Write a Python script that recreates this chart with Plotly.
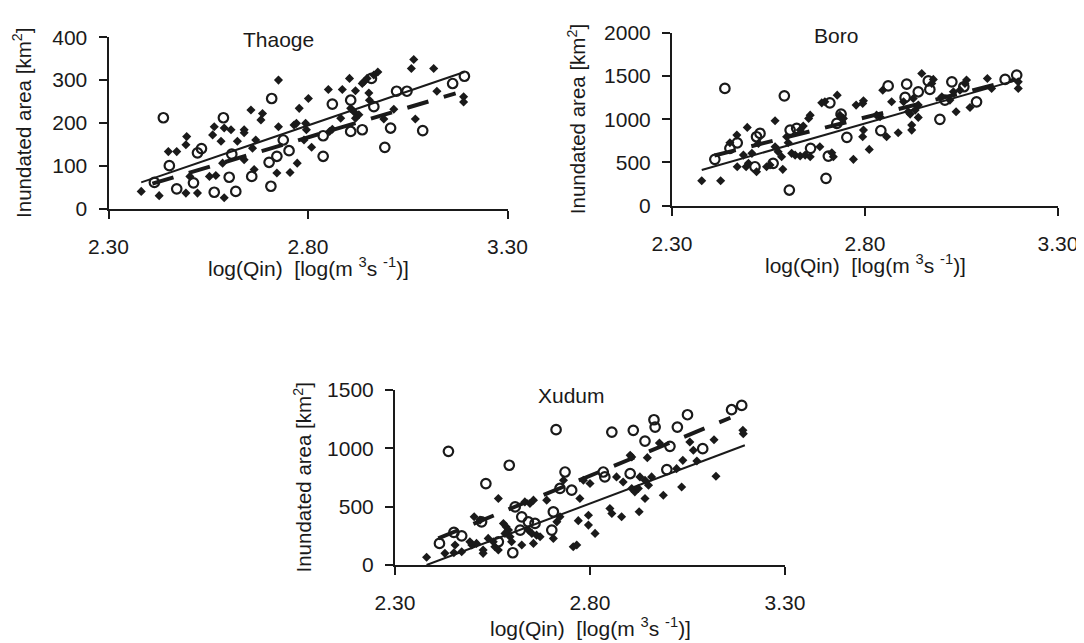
import plotly.graph_objects as go

# ---------------- data ----------------
x_ticks = [2.30, 2.80, 3.30]
x_ticktext = ["2.30", "2.80", "3.30"]

# Thaoge
thaoge_fill_x = [2.382, 2.427, 2.45, 2.471, 2.496, 2.494, 2.504, 2.494, 2.523, 2.565, 2.561, 2.59, 2.607, 2.582,
                 2.553, 2.569, 2.586, 2.59, 2.623, 2.64, 2.64, 2.64, 2.657, 2.686, 2.682, 2.665, 2.669, 2.661,
                 2.726, 2.726, 2.722, 2.755, 2.773, 2.778, 2.765, 2.771, 2.801, 2.794, 2.796, 2.79, 2.809, 2.851,
                 3.065, 3.059, 3.115, 2.975, 2.965, 2.948, 2.94, 2.936, 2.904, 2.886, 2.919, 2.9525, 2.954,
                 3.123, 3.19, 3.19, 2.907, 2.915, 2.9275, 2.919, 2.882, 2.99, 3.015, 3.069, 2.861, 2.854]
thaoge_fill_y = [40, 30, 133, 133, 168, 149, 75, 36, 36, 191, 172, 188, 184, 157,
                 75, 77, 106, 25, 157, 184, 177, 114, 230, 222, 207, 91, 160, 141,
                 300, 191, 83, 84, 106, 234, 195, 199, 257, 199, 184, 160, 143, 278,
                 348, 327, 327, 319, 312, 304, 296, 292, 304, 278, 275, 270, 253,
                 274, 261, 249, 234, 226, 219, 211, 211, 209, 232, 209, 185, 180]
thaoge_open_x = [2.4375, 2.415, 2.4525, 2.471, 2.513, 2.523, 2.533, 2.565, 2.619, 2.6025, 2.588, 2.609, 2.659,
                 2.707, 2.709, 2.7025, 2.722, 2.738, 2.7525, 2.838, 2.838, 2.861, 3.192, 3.1625, 3.048, 3.022,
                 2.959, 2.907, 2.965, 2.936, 2.907, 3.007, 3.0875, 2.9925]
thaoge_open_y = [212, 61, 100, 46, 60, 130, 140, 38, 40, 73, 212, 127, 75,
                 52, 257, 108, 122, 160, 135, 170, 122, 244, 309, 292, 274, 274,
                 304, 253, 238, 184, 180, 188, 182, 143]
thaoge_solid_x, thaoge_solid_y = [2.382, 3.192], [61, 319]
thaoge_dash_x, thaoge_dash_y = [2.41, 3.17], [58, 269]

# Boro
boro_fill_x = [2.377, 2.426, 2.469, 2.45, 2.468, 2.495, 2.492, 2.498, 2.519, 2.485, 2.507, 2.545, 2.554, 2.567,
               2.567, 2.575, 2.584, 2.587, 2.524, 2.597, 2.601, 2.61, 2.619, 2.632, 2.645, 2.658, 2.632, 2.64,
               2.658, 2.654, 2.683, 2.688, 2.696, 2.714, 2.718, 2.728, 2.735, 2.744, 2.77, 2.777, 2.796, 2.794,
               2.796, 2.794, 2.811, 2.846, 2.856, 2.947, 2.977, 2.973, 3.063, 3.059, 3.117, 3.197, 3.197, 3.128,
               2.869, 2.9, 2.925, 2.938, 2.93, 2.839, 2.83, 2.917, 2.912, 2.938, 2.921, 2.921, 2.886, 3.036,
               3.072, 3.02, 2.999, 3.046, 3.029]
boro_fill_y = [289, 289, 450, 727, 816, 905, 450, 490, 393, 585, 605, 450, 470, 982,
               681, 624, 566, 420, 720, 797, 727, 605, 585, 574, 585, 566, 874, 920,
               1047, 1009, 681, 1189, 1201, 612, 566, 1278, 1047, 1009, 536, 1163, 1212, 1182,
               874, 797, 651, 1336, 797, 1529, 1460, 1413, 1452, 1413, 1471, 1432, 1356, 1356,
               1201, 1201, 1240, 1163, 1105, 1028, 1047, 1059, 1086, 1021, 932, 874, 843, 1086,
               1136, 1221, 1259, 1336, 1317]
boro_open_x = [2.437, 2.411, 2.45, 2.469, 2.515, 2.519, 2.528, 2.562, 2.591, 2.606, 2.623, 2.659, 2.604,
               2.699, 2.705, 2.709, 2.738, 2.727, 2.753, 2.841, 2.86, 2.908, 2.964, 2.968, 2.938, 2.904,
               3.025, 3.056, 3.007, 3.089, 2.994, 3.163, 3.193]
boro_open_y = [1356, 536, 663, 727, 450, 797, 836, 490, 1270, 874, 894, 663, 181,
               316, 574, 1189, 1059, 951, 790, 868, 1385, 1405, 1443, 1344, 1317, 1252,
               1432, 1375, 1221, 1201, 998, 1460, 1510]
boro_solid_x, boro_solid_y = [2.377, 3.193], [412, 1452]
boro_dash_x, boro_dash_y = [2.41, 3.19], [580, 1460]

# Xudum
xudum_fill_x = [2.381, 2.428, 2.454, 2.471, 2.451, 2.492, 2.497, 2.509, 2.526, 2.526, 2.539, 2.552, 2.565,
                2.556, 2.565, 2.578, 2.585, 2.591, 2.582, 2.595, 2.599, 2.625, 2.633, 2.646, 2.655, 2.642,
                2.651, 2.655, 2.663, 2.672, 2.689, 2.706, 2.715, 2.723, 2.732, 2.757, 2.766, 2.77, 2.503,
                2.518, 2.796, 2.796, 2.813, 2.774, 2.783, 2.8, 2.851, 2.856, 2.881, 2.868, 2.885, 2.907,
                2.915, 2.924, 2.941, 2.926, 2.903, 2.907, 2.947, 2.928, 2.941, 2.95, 2.958, 2.978, 2.988,
                3.022, 3.035, 3.038, 3.056, 3.065, 3.074, 3.118, 3.123, 3.192, 3.193]
xudum_fill_y = [66, 100, 171, 114, 105, 199, 171, 185, 128, 100, 228, 199, 570,
                157, 128, 356, 327, 299, 271, 242, 199, 171, 541, 527, 556, 299,
                271, 185, 256, 242, 556, 228, 370, 413, 726, 157, 171, 380, 413,
                385, 427, 342, 271, 570, 726, 698, 484, 442, 413, 755, 712, 656,
                627, 656, 570, 456, 940, 926, 920, 755, 726, 684, 755, 1045, 598,
                826, 669, 897, 1054, 983, 891, 1074, 761, 1154, 1126]
xudum_open_x = [2.437, 2.414, 2.451, 2.471, 2.533, 2.522, 2.565, 2.602, 2.593, 2.608, 2.625, 2.621, 2.642,
                2.659, 2.702, 2.706, 2.713, 2.736, 2.723, 2.753, 2.856, 2.911, 2.964, 2.967, 2.941, 3.005,
                3.024, 3.05, 3.089, 2.997, 2.903, 2.838, 2.834, 3.163, 3.189]
xudum_open_y = [974, 185, 279, 250, 698, 370, 199, 105, 855, 498, 413, 299, 370,
                356, 299, 456, 1160, 797, 656, 641, 1139, 1154, 1245, 1182, 1062, 1017,
                1182, 1288, 997, 818, 784, 755, 797, 1331, 1368]
xudum_solid_x, xudum_solid_y = [2.381, 3.197], [0, 1026]
xudum_dash_x, xudum_dash_y = [2.411, 3.16], [228, 1262]

panels = [
    dict(name="Thaoge", fx=thaoge_fill_x, fy=thaoge_fill_y, ox=thaoge_open_x, oy=thaoge_open_y,
         sx=thaoge_solid_x, sy=thaoge_solid_y, dx=thaoge_dash_x, dy=thaoge_dash_y,
         yticks=[0, 100, 200, 300, 400]),
    dict(name="Boro", fx=boro_fill_x, fy=boro_fill_y, ox=boro_open_x, oy=boro_open_y,
         sx=boro_solid_x, sy=boro_solid_y, dx=boro_dash_x, dy=boro_dash_y,
         yticks=[0, 500, 1000, 1500, 2000]),
    dict(name="Xudum", fx=xudum_fill_x, fy=xudum_fill_y, ox=xudum_open_x, oy=xudum_open_y,
         sx=xudum_solid_x, sy=xudum_solid_y, dx=xudum_dash_x, dy=xudum_dash_y,
         yticks=[0, 500, 1000, 1500]),
]

# ---------------- layout geometry (window pixels) ----------------
W, H = 1084, 643
OFF = 8  # page body margin: figure's top-left sits at (8, 8) in the window
# left, right, bottom(y of x-axis), top  -- in window pixels
boxes = [(108.5, 507.5, 208.5, 37.3), (672, 1058, 205.7, 32.7), (395, 785, 565, 390)]
ytitle_x = [22, 577, 302]
xtitle_y = [267, 264, 627]
title_pos = [(278, 39), (836, 36), (572, 395)]


def px(xw):
    return (xw - OFF) / W


def py(yw):
    return 1 - (yw - OFF) / H


FONT = "Liberation Sans, Arial, sans-serif"
INK = "#1a1a1a"
FS = 21

fig = go.Figure()
layout = dict(width=W, height=H, margin=dict(l=0, r=0, t=0, b=0, autoexpand=False),
              paper_bgcolor="white", plot_bgcolor="white", showlegend=False,
              font=dict(family=FONT, size=FS, color=INK))
annotations = []

for i, (p, (l, r, b, t)) in enumerate(zip(panels, boxes)):
    k = "" if i == 0 else str(i + 1)
    xa, ya = "x" + k, "y" + k
    fig.add_trace(go.Scatter(x=p["sx"], y=p["sy"], mode="lines", xaxis=xa, yaxis=ya,
                             line=dict(color=INK, width=2)))
    fig.add_trace(go.Scatter(x=p["dx"], y=p["dy"], mode="lines", xaxis=xa, yaxis=ya,
                             line=dict(color=INK, width=4, dash="22px,16px")))
    fig.add_trace(go.Scatter(x=p["fx"], y=p["fy"], mode="markers", xaxis=xa, yaxis=ya, cliponaxis=False,
                             marker=dict(symbol="diamond", size=7, color=INK, line=dict(width=0))))
    fig.add_trace(go.Scatter(x=p["ox"], y=p["oy"], mode="markers", xaxis=xa, yaxis=ya, cliponaxis=False,
                             marker=dict(symbol="circle-open", size=9.5, color=INK, line=dict(width=2.2))))
    common = dict(showline=True, linecolor=INK, linewidth=2, ticks="outside", ticklen=8, tickwidth=2,
                  tickcolor=INK, showgrid=False, zeroline=False, automargin=False,
                  tickfont=dict(size=FS, family=FONT, color=INK))
    layout["xaxis" + k] = dict(domain=[px(l), px(r)], range=[2.30, 3.30], anchor=ya,
                               tickvals=x_ticks, ticktext=x_ticktext, ticklabelstandoff=10, **common)
    layout["yaxis" + k] = dict(domain=[py(b), py(t)], range=[0, p["yticks"][-1]], anchor=xa,
                               tickvals=p["yticks"], ticklabelstandoff=7, **common)
    annotations.append(dict(text=p["name"], xref="paper", yref="paper", x=px(title_pos[i][0]),
                            y=py(title_pos[i][1]), showarrow=False, xanchor="center", yanchor="middle",
                            font=dict(size=FS, family=FONT, color=INK)))
    annotations.append(dict(text="Inundated area [km<sup>2</sup>]", xref="paper", yref="paper",
                            x=px(ytitle_x[i]), y=py((b + t) / 2), textangle=-90, showarrow=False,
                            xanchor="center", yanchor="middle", font=dict(size=20.5, family=FONT, color=INK)))
    annotations.append(dict(text="log(Qin)  [log(m <sup>3</sup>s <sup>-1</sup>)]", xref="paper", yref="paper",
                            x=px((l + r) / 2), y=py(xtitle_y[i]), showarrow=False,
                            xanchor="center", yanchor="middle", font=dict(size=FS, family=FONT, color=INK)))

layout["annotations"] = annotations
fig.update_layout(**layout)
fig.write_html("out.html")
